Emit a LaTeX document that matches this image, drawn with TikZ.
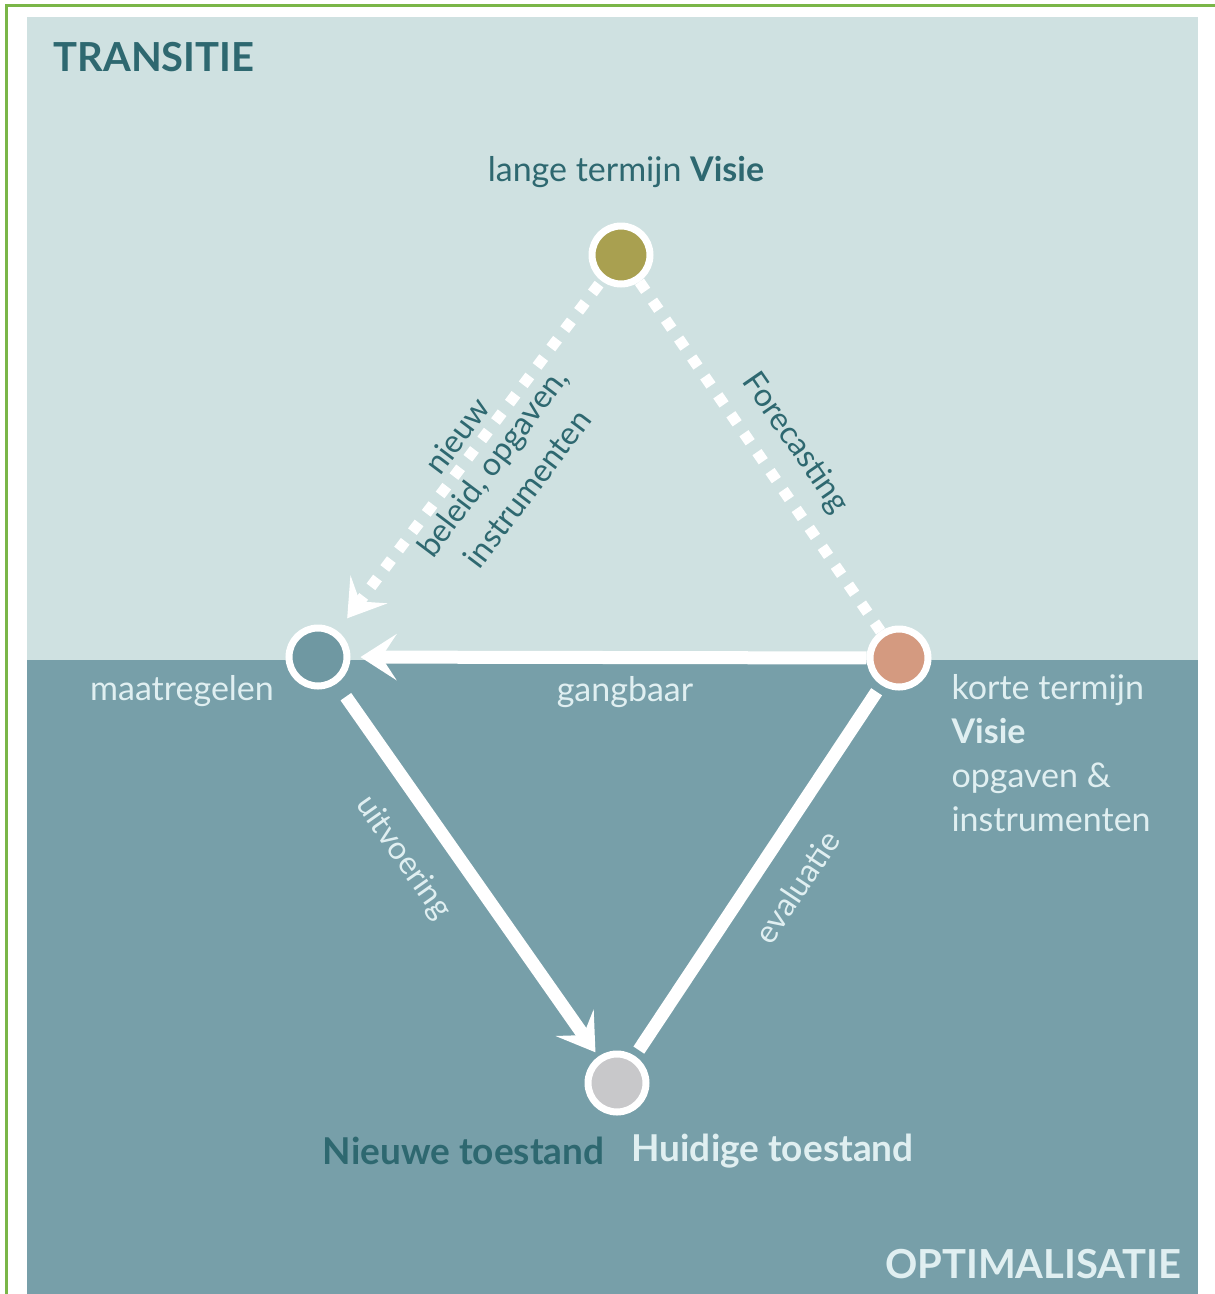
\documentclass[tikz,border=0pt]{standalone}
\usepackage{fontspec}
\setmainfont{Lato}
\usetikzlibrary{arrows.meta,shadows}
\definecolor{frameGreen}{HTML}{7AB648}
\definecolor{upperBg}{HTML}{CFE1E1}
\definecolor{lowerBg}{HTML}{779FA9}
\definecolor{darkTeal}{HTML}{2E6870}
\definecolor{lightText}{HTML}{E0EFF1}
\definecolor{olive}{HTML}{A9A050}
\definecolor{salmon}{HTML}{D49A80}
\definecolor{greyDot}{HTML}{C8C8CA}
\definecolor{teaDot}{HTML}{6F98A2}
\begin{document}
\begin{tikzpicture}[x=1pt,y=-1pt,
  dot/.style={circle,draw=white,line width=7pt,minimum size=58pt,inner sep=0pt,
    drop shadow={opacity=0.35,shadow xshift=1.5pt,shadow yshift=-1.5pt}},
  lbl/.style={font=\fontsize{34}{42}\selectfont},
  rlbl/.style={font=\fontsize{32}{40}\selectfont},
  solidline/.style={draw=white,line width=13pt},
  dashline/.style={draw=white,line width=11pt,dash pattern=on 11pt off 12pt},
  tip/.style={-{Stealth[length=36pt,width=46pt,inset=15pt]}}
]
\useasboundingbox (0,0) rectangle (1215,1294);
\fill[white] (0,0) rectangle (1215,1294);
% frame
\draw[frameGreen,line width=3pt] (6,1294) -- (6,5) -- (1215,5);
% panels
\fill[upperBg] (27,17) rectangle (1198,660);
\fill[lowerBg] (27,660) rectangle (1198,1294);
% titles
\node[anchor=west,text=darkTeal,font=\fontsize{40}{44}\selectfont\bfseries] (trans) at (50,57) {TRANSITIE};
\node[anchor=east,text=lightText,font=\fontsize{40}{44}\selectfont\bfseries] (optim) at (1185,1264) {OPTIMALISATIE};
% dots
\node[dot,fill=olive] (top) at (621,255) {};
\node[dot,fill=teaDot] (left) at (318,657) {};
\node[dot,fill=salmon] (right) at (899,658) {};
\node[dot,fill=greyDot] (bottom) at (617,1083) {};
% connectors
\draw[dashline] (top) -- (right);
\draw[dashline,tip,shorten <=4pt,shorten >=16pt] (top) -- (left);
\draw[solidline,tip,shorten >=10pt] (right) -- (left);
\draw[solidline,tip,shorten <=16pt,shorten >=5pt] (left) -- (bottom);
\draw[solidline,shorten <=7pt,shorten >=8pt] (bottom) -- (right);
% labels
\node[lbl,text=darkTeal] (ltv) at (626,172) {lange termijn \textbf{Visie}};
\node[lbl,text=lightText] (maat) at (182,691) {maatregelen};
\node[lbl,text=lightText] (gang) at (625,692) {gangbaar};
\node[lbl,text=lightText,anchor=north west,align=left,font=\fontsize{34}{44}\selectfont] (ktv) at (948,671)
  {korte termijn\\\textbf{Visie}\\opgaven \&\\instrumenten};
\node[rlbl,text=darkTeal,align=center,rotate=53,font=\fontsize{32}{44}\selectfont] (nieuw) at (492,462) {nieuw\\beleid, opgaven,\\instrumenten};
\node[rlbl,text=darkTeal,rotate=-55.4] (fore) at (795,443) {Forecasting};
\node[rlbl,text=lightText,rotate=-55] (uitv) at (403,858) {uitvoering};
\node[rlbl,text=lightText,rotate=56.4] (eval) at (797,887) {evaluatie};
\node[font=\fontsize{37}{42}\selectfont\bfseries,text=darkTeal,anchor=east] (nt) at (608,1151) {Nieuwe toestand};
\node[font=\fontsize{37}{42}\selectfont\bfseries,text=lightText,anchor=west] (ht) at (628,1151) {Huidige toestand};
\end{tikzpicture}
\end{document}
